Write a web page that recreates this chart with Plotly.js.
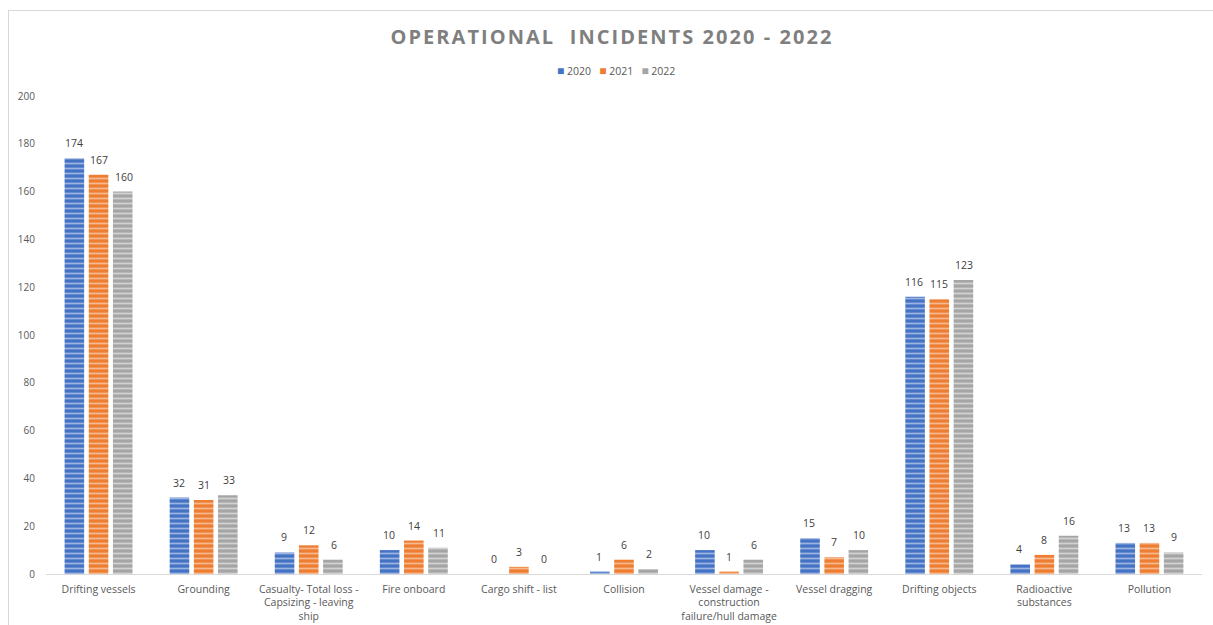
<!DOCTYPE html>
<html>
<head>
<meta charset="utf-8">
<script src="https://cdn.plot.ly/plotly-3.0.1.min.js"></script>
<style>
  html, body { margin: 0; padding: 0; background: #fff; }
  #wrap { position: relative; width: 1213px; height: 625px; overflow: hidden; }
  #chart { width: 1213px; height: 625px; }
  #frame { position: absolute; left: 8px; top: 10px; width: 1300px; height: 700px;
           border-left: 1px solid #d9d9d9; border-top: 1px solid #d9d9d9; pointer-events: none; }
  .gtitle { letter-spacing: 2.05px; }
</style>
</head>
<body>
<div id="wrap">
  <div id="chart"></div>
  <div id="frame"></div>
</div>
<script>
const categories = [
  "Drifting vessels",
  "Grounding",
  "Casualty- Total loss -<br>Capsizing - leaving<br>ship",
  "Fire onboard",
  "Cargo shift - list",
  "Collision",
  "Vessel damage -<br>construction<br>failure/hull damage",
  "Vessel dragging",
  "Drifting objects",
  "Radioactive<br>substances",
  "Pollution"
];
const values2020 = [174, 32, 9, 10, 0, 1, 10, 15, 116, 4, 13];
const values2021 = [167, 31, 12, 14, 3, 6, 1, 7, 115, 8, 13];
const values2022 = [160, 33, 6, 11, 0, 2, 6, 10, 123, 16, 9];
const seriesNames = ["2020", "2021", "2022"];
const yTicks = [0, 20, 40, 60, 80, 100, 120, 140, 160, 180, 200];

const colors = ["#4472C4", "#ED7D31", "#A5A5A5"];
const stripes = ["#9db4e2", "#f6b98f", "#d2d2d2"];
const allValues = [values2020, values2021, values2022];
const FONT = "Open Sans, sans-serif";

const traces = allValues.map((vals, i) => ({
  type: "bar",
  name: seriesNames[i],
  x: categories,
  y: vals,
  marker: {
    color: colors[i],
    line: { width: 0 },
    pattern: { shape: "-", fgcolor: stripes[i], bgcolor: colors[i], size: 5, solidity: 0.35, fillmode: "replace" }
  },
  hoverinfo: "x+y+name"
}));

// data labels placed with the library's category/value scales
const barStep = 25; // px between bar centres within a group
const annotations = [];
allValues.forEach((vals, i) => {
  vals.forEach((v, j) => {
    annotations.push({
      x: categories[j], y: v, xref: "x", yref: "y",
      text: String(v), showarrow: false,
      xshift: (i - 1) * barStep, yshift: 15,
      xanchor: "center", yanchor: "middle",
      font: { family: FONT, size: 10.5, color: "#404040" }
    });
  });
});

// compact legend like the original
const legendText = seriesNames.map((n, i) =>
  `<span style="color:${colors[i]};font-size:12px">■</span> ${n}`).join("&nbsp;&nbsp;&nbsp;");
annotations.push({
  x: 0.493, y: 1.054, xref: "paper", yref: "paper",
  xanchor: "center", yanchor: "middle", showarrow: false,
  text: legendText,
  font: { family: FONT, size: 10.5, color: "#595959" }
});

const layout = {
  width: 1213,
  height: 625,
  margin: { l: 46, r: 11, t: 96, b: 51 },
  paper_bgcolor: "#ffffff",
  plot_bgcolor: "#ffffff",
  title: {
    text: "OPERATIONAL\u00a0\u00a0INCIDENTS 2020 - 2022",
    font: { family: FONT, size: 20, color: "#7f7f7f", weight: 700 },
    x: 0.5045, xanchor: "center",
    y: 0.941, yanchor: "middle"
  },
  showlegend: false,
  barmode: "group",
  bargap: 0.31,
  bargroupgap: 0.19,
  xaxis: {
    showline: true,
    linecolor: "#d9d9d9",
    linewidth: 1,
    ticks: "",
    showgrid: false,
    ticklabelstandoff: 5,
    tickfont: { family: FONT, size: 10.5, color: "#595959" },
    tickangle: 0,
    automargin: false
  },
  yaxis: {
    range: [0, 200],
    tickvals: yTicks,
    ticktext: yTicks.map(String),
    showgrid: false,
    zeroline: false,
    showline: false,
    ticks: "",
    ticklabelstandoff: 10,
    tickfont: { family: FONT, size: 10, color: "#595959" },
    automargin: false
  },
  annotations: annotations,
  font: { family: FONT }
};

Plotly.newPlot("chart", traces, layout, { displayModeBar: false, responsive: false });
</script>
</body>
</html>
